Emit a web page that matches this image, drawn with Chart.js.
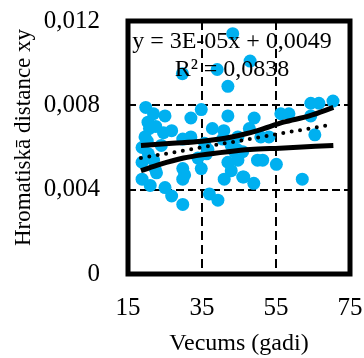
<!DOCTYPE html>
<html lang="lv">
<head>
  <meta charset="UTF-8">
  <title>Hromatiskā distance xy</title>
  <script src="https://cdn.jsdelivr.net/npm/chart.js"></script>
  <style>
    body {
      margin: 0;
      background: #fff;
    }
  </style>
</head>
<body>
  <canvas id="scatterChart" width="364" height="358"></canvas>

  <script>
    // Mērījumi: vecums (gadi) un hromatiskā distance xy
    const ages = [
      19.8, 21.9, 25.0, 20.4, 20.8, 22.5, 24.6, 26.8, 19.6, 18.8, 20.2, 24.0, 18.8, 21.9,
      22.7, 22.3, 18.8, 21.0, 25.0, 26.8, 20.5,
      29.7, 32.0, 34.8, 29.8, 32.0, 37.8, 40.9, 33.9, 34.8, 36.2, 35.7, 36.6, 29.8, 30.3,
      29.8, 29.8, 37.0, 39.3, 39.1, 40.6,
      42.0, 43.3, 48.0, 42.0, 49.1, 47.8, 44.7, 42.9, 43.8, 44.5, 42.0, 44.7, 42.9, 46.0,
      41.0, 46.0, 49.0, 46.3,
      50.9, 53.1, 50.0, 51.4, 55.1, 56.3, 58.5, 64.4, 66.6, 70.4, 64.4, 65.5, 62.1
    ];
    const distances = [
      0.0079, 0.0076, 0.0075, 0.0072, 0.0069, 0.0070, 0.0067, 0.0068, 0.0065, 0.0060, 0.0063, 0.0061, 0.0053, 0.0054,
      0.0048, 0.0050, 0.0045, 0.0042, 0.0041, 0.0037, 0.0057,
      0.0095, 0.0074, 0.0078, 0.0064, 0.0065, 0.0069, 0.0068, 0.0055, 0.0050, 0.0057, 0.0062, 0.0059, 0.0050, 0.0047,
      0.0045, 0.0033, 0.0038, 0.0035, 0.0097, 0.0064,
      0.0089, 0.0114, 0.0101, 0.0075, 0.0074, 0.0069, 0.0065, 0.0061, 0.0058, 0.0059, 0.0053, 0.0054, 0.0049, 0.0046,
      0.0045, 0.0058, 0.0043, 0.0046,
      0.0065, 0.0065, 0.0054, 0.0054, 0.0052, 0.0076, 0.0076, 0.0081, 0.0081, 0.0082, 0.0075, 0.0066, 0.0045
    ];

    // Lineārā tendence (y = 3E-05x + 0,0049) – galapunkti
    const trendAges = [18.5, 70.5];
    const trendValues = [0.0055, 0.0071];

    // Ticamības joslas
    const upperAges = [18.5, 27, 35, 43, 50, 57, 64, 70.5];
    const upperValues = [0.0061, 0.0062, 0.0063, 0.0065, 0.0068, 0.0072, 0.0075, 0.0079];
    const lowerAges = [18.5, 23.6, 30, 35, 42, 48, 56, 70.5];
    const lowerValues = [0.0049, 0.0052, 0.0055, 0.00565, 0.0058, 0.0059, 0.00597, 0.0061];

    // Asu iedaļas
    const xTicks = [15, 35, 55, 75];
    const yTicks = [0, 0.004, 0.008, 0.012];
    const yTickLabels = ["0", "0,004", "0,008", "0,012"];

    const yTitle = "Hromatiskā distance xy";
    const equationLines = ["y = 3E-05x + 0,0049", "R² = 0,0838"];

    const serif = "'Liberation Serif', 'Times New Roman', serif";
    const pointBlue = "#00B0F0";

    function toPoints(xs, ys) {
      return xs.map((x, i) => ({ x: x, y: ys[i] }));
    }

    // Rāmis ap zīmēšanas laukumu, Y ass nosaukums un vienādojuma teksts
    const frameAndLabel = {
      id: "frameAndLabel",
      beforeDatasetsDraw(chart) {
        const { ctx, chartArea: a } = chart;
        ctx.save();
        ctx.strokeStyle = "#000";
        ctx.lineWidth = 5;
        ctx.strokeRect(a.left, a.top, a.right - a.left, a.bottom - a.top);
        ctx.restore();
      },
      afterDraw(chart) {
        const { ctx, chartArea: a } = chart;
        ctx.save();
        ctx.fillStyle = "#000";
        ctx.font = "24px " + serif;
        ctx.textAlign = "center";
        ctx.textBaseline = "alphabetic";
        ctx.fillText(equationLines[0], a.left + 104, a.top + 27);
        ctx.fillText(equationLines[1], a.left + 104, a.top + 55);

        ctx.translate(30, (a.top + a.bottom) / 2 - 10);
        ctx.rotate(-Math.PI / 2);
        ctx.font = "23px " + serif;
        ctx.fillText(yTitle, 0, 0);
        ctx.restore();
      }
    };

    const gridStyle = {
      color: "#000",
      lineWidth: 2,
      drawTicks: false
    };

    new Chart(document.getElementById("scatterChart"), {
      type: "scatter",
      data: {
        datasets: [
          {
            label: "Augšējā josla",
            data: toPoints(upperAges, upperValues),
            showLine: true,
            borderColor: "#000",
            borderWidth: 5,
            pointRadius: 0,
            cubicInterpolationMode: "monotone"
          },
          {
            label: "Apakšējā josla",
            data: toPoints(lowerAges, lowerValues),
            showLine: true,
            borderColor: "#000",
            borderWidth: 5,
            pointRadius: 0,
            cubicInterpolationMode: "monotone"
          },
          {
            label: "Lineārā tendence",
            data: toPoints(trendAges, trendValues),
            showLine: true,
            borderColor: "#000",
            borderWidth: 4,
            borderDash: [0, 8.5],
            borderCapStyle: "round",
            pointRadius: 0
          },
          {
            label: "Hromatiskā distance",
            data: toPoints(ages, distances),
            backgroundColor: pointBlue,
            borderColor: pointBlue,
            borderWidth: 0,
            pointRadius: 6.5
          }
        ]
      },
      options: {
        responsive: false,
        animation: false,
        layout: {
          padding: { top: 21, right: 14, bottom: 0, left: 0 }
        },
        plugins: {
          legend: { display: false },
          tooltip: { enabled: false }
        },
        scales: {
          x: {
            type: "linear",
            min: 15,
            max: 75,
            afterBuildTicks(scale) {
              scale.ticks = xTicks.map(v => ({ value: v }));
            },
            afterFit(scale) {
              scale.height = 84;
              scale.paddingLeft = 0;
              scale.paddingRight = 0;
            },
            grid: gridStyle,
            border: { display: false, dash: [9, 5] },
            ticks: {
              color: "#000",
              padding: 19,
              maxRotation: 0,
              font: { family: serif, size: 25 }
            },
            title: {
              display: true,
              text: "Vecums (gadi)",
              color: "#000",
              padding: 0,
              font: { family: serif, size: 24 }
            }
          },
          y: {
            type: "linear",
            min: 0,
            max: 0.012,
            afterBuildTicks(scale) {
              scale.ticks = yTicks.map(v => ({ value: v }));
            },
            afterFit(scale) {
              scale.width = 128;
              scale.paddingTop = 0;
              scale.paddingBottom = 0;
            },
            grid: gridStyle,
            border: { display: false, dash: [8, 4] },
            ticks: {
              color: "#000",
              padding: 28,
              font: { family: serif, size: 25 },
              callback: (value, index) => yTickLabels[index]
            }
          }
        }
      },
      plugins: [frameAndLabel]
    });
  </script>
</body>
</html>
